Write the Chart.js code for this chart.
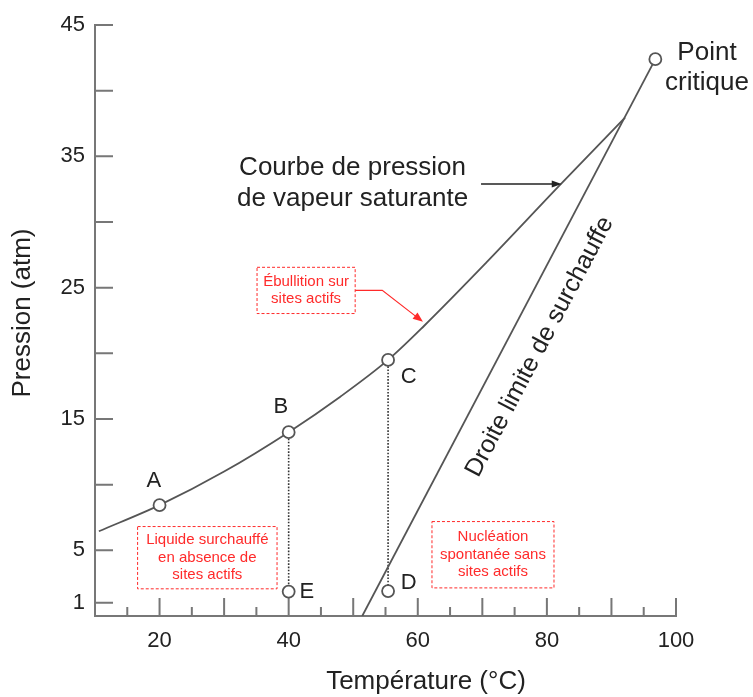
<!DOCTYPE html>
<html>
<head>
<meta charset="utf-8">
<script src="https://cdn.jsdelivr.net/npm/chart.js@4"></script>
<style>
  body { margin: 0; background: #fff; }
  canvas { display: block; }
</style>
</head>
<body>
<canvas id="myChart" width="753" height="697"></canvas>
<script>
// saturation curve (temperature in °C, pressure in atm), up to where it meets the limit line
let curveT = [10.6, 20, 30, 40, 48, 55.4, 61, 70.6, 82, 92.1]
let curveP = [6.45, 8.44, 11.0, 14.0, 16.7, 19.5, 22.1, 26.9, 32.8, 37.95]

// superheat limit straight line, ends at the critical point
let limitT = [51.4, 96.8]
let limitP = [0, 42.4]

// marked states
let pointNames = ['A', 'B', 'C', 'D', 'E', 'Point critique']
let pointT = [20, 40, 55.4, 55.4, 40, 96.8]
let pointP = [8.44, 14.0, 19.5, 1.9, 1.86, 42.4]

// axis ticks
let xTicks = [15, 20, 25, 30, 35, 40, 45, 50, 55, 60, 65, 70, 75, 80, 85, 90, 95, 100]
let xTickLabels = [20, 40, 60, 80, 100]
let yTicks = [1, 5, 10, 15, 20, 25, 30, 35, 40, 45]
let yTickLabels = [1, 5, 15, 25, 35, 45]

var FONT = "'Liberation Sans', Arial, sans-serif"
var RED = '#ff2a2a'
var GREY = '#555'

function pts(xs, ys) {
  return xs.map(function (v, i) { return { x: v, y: ys[i] } })
}

// dotted drop lines B -> E and C -> D
var marks = pts(pointT, pointP)
var dropBE = [marks[1], marks[4]]
var dropCD = [marks[2], marks[3]]

/*~~~~~~~~~~~~~~~~~~~~~~ANNOTATIONS~~~~~~~~~~~~~~~~~~~~~~~*/
// label placement, in data units
var letterPos = { A: [19.1, 10.25], B: [38.8, 15.9], C: [58.6, 18.2], D: [58.6, 2.5], E: [42.8, 1.86] }

function write(ctx, str, x, y, size, color, align) {
  ctx.font = size + 'px ' + FONT
  ctx.fillStyle = color
  ctx.textAlign = align || 'center'
  ctx.textBaseline = 'middle'
  ctx.fillText(str, x, y)
}

function arrowHead(ctx, x0, y0, x1, y1, len, wid, color) {
  var a = Math.atan2(y1 - y0, x1 - x0)
  ctx.save()
  ctx.translate(x1, y1)
  ctx.rotate(a)
  ctx.fillStyle = color
  ctx.beginPath()
  ctx.moveTo(0, 0)
  ctx.lineTo(-len, -wid)
  ctx.lineTo(-len, wid)
  ctx.closePath()
  ctx.fill()
  ctx.restore()
}

function redBox(ctx, X, Y, b, lines) {
  ctx.save()
  ctx.strokeStyle = RED
  ctx.lineWidth = 1
  ctx.setLineDash([3, 2])
  var l = X(b.x0), r = X(b.x1), t = Y(b.y0), bt = Y(b.y1)
  ctx.strokeRect(l, t, r - l, bt - t)
  ctx.restore()
  var cx = (l + r) / 2, cy = (t + bt) / 2, lh = 17.5
  lines.forEach(function (s, i) {
    write(ctx, s, cx, cy + (i - (lines.length - 1) / 2) * lh, 15, RED)
  })
}

var annot = {
  id: 'annot',
  beforeDatasetsDraw: function (chart) {
    var ctx = chart.ctx
    var xs = chart.scales.x, ys = chart.scales.y
    var area = chart.chartArea
    // inward tick marks
    ctx.save()
    ctx.strokeStyle = '#777'
    ctx.lineWidth = 2
    ctx.beginPath()
    yTicks.forEach(function (v) {
      var p = ys.getPixelForValue(v)
      ctx.moveTo(area.left, p); ctx.lineTo(area.left + 18, p)
    })
    xTicks.forEach(function (v) {
      var p = xs.getPixelForValue(v)
      var len = v % 10 === 0 ? 18 : 9
      ctx.moveTo(p, area.bottom); ctx.lineTo(p, area.bottom - len)
    })
    ctx.stroke()
    ctx.restore()
  },
  afterDatasetsDraw: function (chart) {
    var ctx = chart.ctx
    var xs = chart.scales.x, ys = chart.scales.y
    var X = function (v) { return xs.getPixelForValue(v) }
    var Y = function (v) { return ys.getPixelForValue(v) }
    ctx.save()

    // axis titles
    write(ctx, 'Température (°C)', 426, 682, 26, '#222')
    ctx.save()
    ctx.translate(23, 313)
    ctx.rotate(-Math.PI / 2)
    write(ctx, 'Pression (atm)', 0, 0, 26, '#222')
    ctx.restore()

    // point letters
    Object.keys(letterPos).forEach(function (k) {
      write(ctx, k, X(letterPos[k][0]), Y(letterPos[k][1]), 22, '#222')
    })

    // saturation curve label + arrow
    write(ctx, 'Courbe de pression', X(49.9), Y(34.1), 26, '#222')
    write(ctx, 'de vapeur saturante', X(49.9), Y(31.8), 26, '#222')
    ctx.strokeStyle = '#222'
    ctx.lineWidth = 1.5
    ctx.beginPath()
    ctx.moveTo(X(69.8), Y(32.9)); ctx.lineTo(X(81.5), Y(32.9))
    ctx.stroke()
    arrowHead(ctx, X(69.8), Y(32.9), X(82.3), Y(32.9), 10, 3.5, '#222')

    // critical point label
    write(ctx, 'Point', X(104.8), Y(42.9), 26, '#222')
    write(ctx, 'critique', X(104.8), Y(40.6), 26, '#222')

    // label along the superheat limit line
    var ang = Math.atan2(Y(limitP[1]) - Y(limitP[0]), X(limitT[1]) - X(limitT[0]))
    ctx.save()
    ctx.translate(X(78.9), Y(20.5))
    ctx.rotate(ang)
    write(ctx, 'Droite limite de surchauffe', 0, 0, 25, '#222')
    ctx.restore()

    // red dashed notes
    redBox(ctx, X, Y, { x0: 16.6, x1: 38.2, y0: 6.81, y1: 2.07 },
      ['Liquide surchauffé', 'en absence de', 'sites actifs'])
    redBox(ctx, X, Y, { x0: 62.2, x1: 81.1, y0: 7.19, y1: 2.14 },
      ['Nucléation', 'spontanée sans', 'sites actifs'])
    redBox(ctx, X, Y, { x0: 35.1, x1: 50.3, y0: 26.55, y1: 23.03 },
      ['Ébullition sur', 'sites actifs'])
    ctx.strokeStyle = RED
    ctx.lineWidth = 1.2
    ctx.beginPath()
    ctx.moveTo(X(50.3), Y(24.8)); ctx.lineTo(X(54.5), Y(24.8)); ctx.lineTo(X(60.0), Y(22.7))
    ctx.stroke()
    arrowHead(ctx, X(54.5), Y(24.8), X(60.8), Y(22.4), 10, 4, RED)

    ctx.restore()
  }
}
/*~~~~~~~~~~~~~~~~~~~~~~~~~~~~~~~~~~~~~~~~~~~~~~~~~~~~~*/

var ctx = document.getElementById('myChart').getContext('2d')
var myChart = new Chart(ctx, {
  type: 'line',
  data: {
    datasets: [{
      label: 'Courbe de pression de vapeur saturante',
      data: pts(curveT, curveP),
      borderColor: GREY,
      borderWidth: 1.8,
      pointRadius: 0,
      cubicInterpolationMode: 'monotone',
      order: 1
    }, {
      label: 'Droite limite de surchauffe',
      data: pts(limitT, limitP),
      borderColor: GREY,
      borderWidth: 1.8,
      pointRadius: 0,
      order: 1
    }, {
      label: 'B-E',
      data: dropBE,
      borderColor: '#333',
      borderWidth: 1.6,
      borderDash: [1.6, 1.6],
      pointRadius: 0,
      order: 1
    }, {
      label: 'C-D',
      data: dropCD,
      borderColor: '#333',
      borderWidth: 1.6,
      borderDash: [1.6, 1.6],
      pointRadius: 0,
      order: 1
    }, {
      // drawn last so the white circles sit on top of the lines
      label: 'points',
      data: marks,
      showLine: false,
      pointRadius: 6,
      pointBorderWidth: 1.8,
      pointBorderColor: GREY,
      pointBackgroundColor: '#fff',
      order: 0
    }]
  },
  options: {
    responsive: false,
    animation: false,
    devicePixelRatio: 1,
    layout: { padding: { top: 25, right: 77, left: 0, bottom: 0 } },
    plugins: { legend: { display: false }, tooltip: { enabled: false } },
    scales: {
      x: {
        type: 'linear',
        min: 10,
        max: 100,
        grid: { display: false, drawTicks: false },
        border: { display: true, color: '#777', width: 2 },
        afterBuildTicks: function (s) { s.ticks = xTicks.map(function (v) { return { value: v } }) },
        afterFit: function (s) { s.height = 81 },
        ticks: {
          autoSkip: false,
          maxRotation: 0,
          padding: 12,
          color: '#222',
          font: { family: FONT, size: 22 },
          callback: function (v) { return xTickLabels.includes(v) ? String(v) : '' }
        }
      },
      y: {
        type: 'linear',
        min: 0,
        max: 45,
        grid: { display: false, drawTicks: false },
        border: { display: true, color: '#777', width: 2 },
        afterBuildTicks: function (s) { s.ticks = yTicks.map(function (v) { return { value: v } }) },
        afterFit: function (s) { s.width = 95 },
        ticks: {
          autoSkip: false,
          padding: 10,
          color: '#222',
          font: { family: FONT, size: 22 },
          callback: function (v) { return yTickLabels.includes(v) ? String(v) : '' }
        }
      }
    }
  },
  plugins: [annot]
})
</script>
</body>
</html>
